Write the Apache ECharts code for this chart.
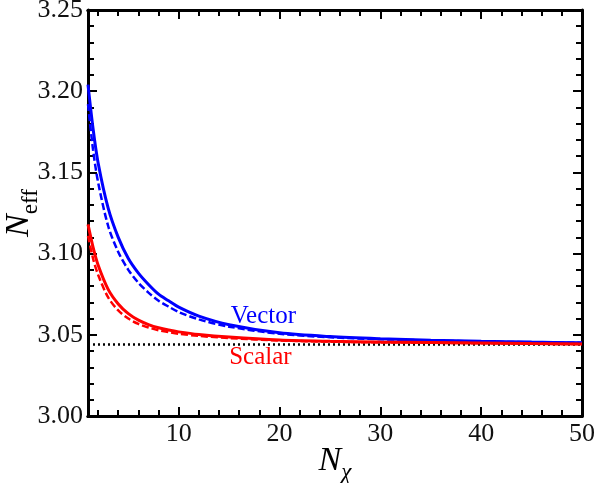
<!DOCTYPE html>
<html>
<head>
<meta charset="utf-8">
<script src="https://cdn.jsdelivr.net/npm/echarts@6/dist/echarts.min.js"></script>
<style>
  html, body { margin: 0; padding: 0; background: #fff; }
  #chart { width: 597px; height: 483px; }
</style>
</head>
<body>
<div id="chart"></div>
<script>
// Effective number of neutrino species versus number of extra species
const nChi = [1, 1.5, 2, 3, 4, 5, 6, 7, 8, 9, 10, 12, 15, 20, 25, 30, 35, 40, 45, 50];
const vectorFull   = [3.204, 3.177, 3.156, 3.128, 3.110, 3.097, 3.088, 3.081, 3.075, 3.0709, 3.067, 3.0615, 3.0562, 3.0512, 3.0489, 3.0476, 3.0467, 3.046, 3.0455, 3.0451];
const vectorApprox = [3.192, 3.164, 3.144, 3.117, 3.101, 3.090, 3.082, 3.076, 3.071, 3.0673, 3.064, 3.0595, 3.055, 3.0506, 3.0485, 3.0473, 3.0465, 3.0458, 3.0454, 3.045];
const scalarFull   = [3.118, 3.104, 3.093, 3.078, 3.069, 3.063, 3.059, 3.0563, 3.0543, 3.0529, 3.0518, 3.0502, 3.0486, 3.0468, 3.046, 3.0455, 3.0452, 3.0449, 3.0446, 3.0444];
const scalarApprox = [3.111, 3.097, 3.087, 3.073, 3.065, 3.060, 3.0567, 3.0545, 3.0528, 3.0516, 3.0506, 3.0493, 3.048, 3.0465, 3.0458, 3.0453, 3.0451, 3.0448, 3.0445, 3.0443];
const standardValue = 3.044;
const xRange = [1, 50];
const yRange = [3.00, 3.25];
const xMajorTicks = [10, 20, 30, 40, 50];
const xMinorTicks = [2, 4, 6, 8, 12, 14, 16, 18, 22, 24, 26, 28, 32, 34, 36, 38, 42, 44, 46, 48];
const curveLabels = [
  { text: 'Vector', at: [18.4, 3.0616], color: '#0000ff' },
  { text: 'Scalar', at: [18.1, 3.0363], color: '#ff0000' }
];

const FONT = 'Liberation Serif';
const BLUE = '#0000ff';
const RED = '#ff0000';

function pairs(xs, ys) { return xs.map((x, i) => [x, ys[i]]); }

function xAxisDef(position, values, len, showLabel, showName) {
  return {
    type: 'value', position: position, min: xRange[0], max: xRange[1],
    axisLine: { show: true, onZero: false, lineStyle: { color: '#000', width: 3 } },
    axisTick: { show: true, inside: true, length: len, customValues: values, lineStyle: { color: '#000', width: 2 } },
    axisLabel: { show: showLabel, customValues: values, color: '#111', fontFamily: FONT, fontSize: 26, margin: 5 },
    splitLine: { show: false },
    name: showName ? '{n|N}{s|χ}' : '',
    nameLocation: 'middle', nameGap: 28, nameMoveOverlap: false,
    nameTextStyle: {
      rich: {
        n: { fontFamily: FONT, fontStyle: 'italic', fontSize: 34, color: '#000', verticalAlign: 'bottom', lineHeight: 34 },
        s: { fontFamily: FONT, fontStyle: 'italic', fontSize: 23, color: '#000', verticalAlign: 'bottom', lineHeight: 34, padding: [0, 0, -6, 0] }
      }
    }
  };
}

function yAxisDef(position, showLabel) {
  return {
    type: 'value', position: position, min: yRange[0], max: yRange[1], interval: 0.05,
    axisLine: { show: true, onZero: false, lineStyle: { color: '#000', width: 3 } },
    axisTick: { show: true, inside: true, length: 9, lineStyle: { color: '#000', width: 2 } },
    minorTick: { show: true, splitNumber: 5, length: 6, lineStyle: { color: '#000', width: 2 } },
    axisLabel: { show: showLabel, color: '#111', fontFamily: FONT, fontSize: 26, margin: 5,
      formatter: v => v.toFixed(2) },
    splitLine: { show: false },
    name: showLabel ? '{n|N}{s|eff}' : '',
    nameLocation: 'middle', nameGap: 52, nameRotate: 90, nameMoveOverlap: false,
    nameTextStyle: {
      rich: {
        n: { fontFamily: FONT, fontStyle: 'italic', fontSize: 34, color: '#000', verticalAlign: 'bottom', lineHeight: 34 },
        s: { fontFamily: FONT, fontSize: 23, color: '#000', verticalAlign: 'bottom', lineHeight: 34, padding: [0, 0, -6, 0] }
      }
    }
  };
}

const chart = echarts.init(document.getElementById('chart'), null, { renderer: 'canvas' });

const curve = (name, values, color, width, dash) => ({
  type: 'line', name: name, data: pairs(nChi, values), smooth: 0.3,
  showSymbol: false, lineStyle: { color: color, width: width, type: dash || 'solid' }
});

const labelMark = (lab) => ({
  symbolSize: 0, silent: true,
  data: [{ coord: lab.at, value: 0 }],
  label: { show: true, formatter: lab.text, color: lab.color, fontFamily: FONT, fontSize: 25, position: 'inside' }
});

const vectorSeries = curve('Vector', vectorFull, BLUE, 3);
vectorSeries.markPoint = labelMark(curveLabels[0]);
const scalarSeries = curve('Scalar', scalarFull, RED, 3);
scalarSeries.markPoint = labelMark(curveLabels[1]);

const option = {
  animation: false,
  backgroundColor: '#fff',
  grid: { left: 88, right: 15, top: 10, bottom: 67, containLabel: false, outerBoundsMode: 'none' },
  xAxis: [
    xAxisDef('bottom', xMajorTicks, 9, true, true),
    xAxisDef('bottom', xMinorTicks, 6, false, false),
    xAxisDef('top', xMajorTicks, 9, false, false),
    xAxisDef('top', xMinorTicks, 6, false, false)
  ],
  yAxis: [yAxisDef('left', true), yAxisDef('right', false)],
  series: [
    {
      type: 'line', name: 'standard',
      data: [[xRange[0], standardValue], [xRange[1], standardValue]],
      showSymbol: false, lineStyle: { color: '#000', width: 2.5, type: [2, 3] }
    },
    curve('Vector approx', vectorApprox, BLUE, 2.5, [7, 3]),
    vectorSeries,
    curve('Scalar approx', scalarApprox, RED, 2.5, [7, 3]),
    scalarSeries
  ]
};

chart.setOption(option);
</script>
</body>
</html>
